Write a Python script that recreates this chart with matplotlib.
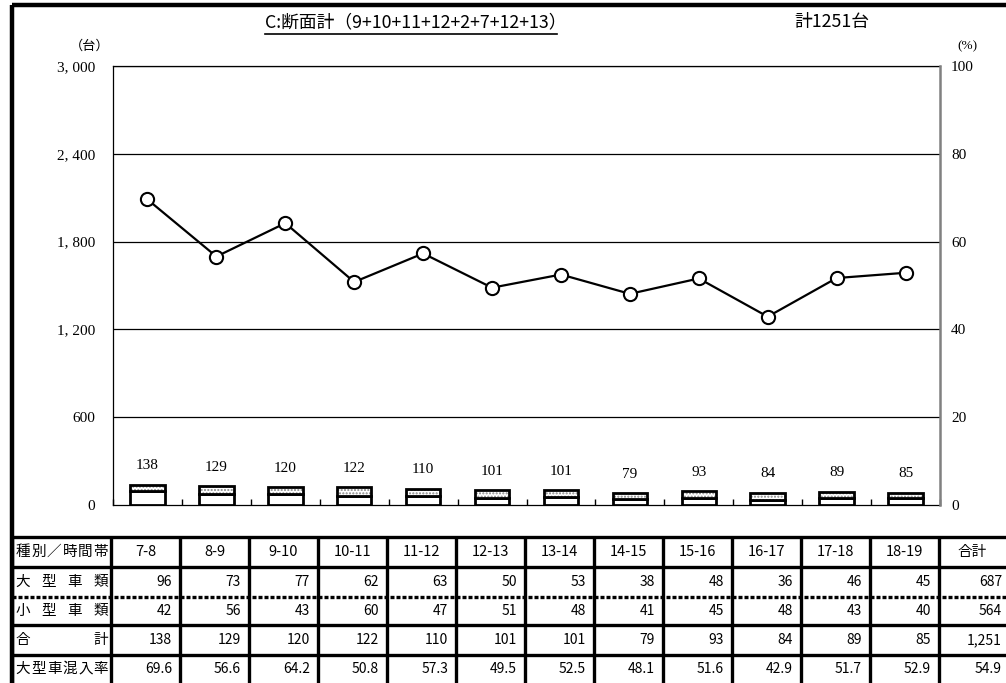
import matplotlib.pyplot as plt
import numpy as np

# data
hours = ['7-8', '8-9', '9-10', '10-11', '11-12', '12-13', '13-14',
         '14-15', '15-16', '16-17', '17-18', '18-19']
large = [96, 73, 77, 62, 63, 50, 53, 38, 48, 36, 46, 45]
small = [42, 56, 43, 60, 47, 51, 48, 41, 45, 48, 43, 40]
total = [138, 129, 120, 122, 110, 101, 101, 79, 93, 84, 89, 85]
rate = [69.6, 56.6, 64.2, 50.8, 57.3, 49.5, 52.5, 48.1, 51.6, 42.9, 51.7, 52.9]
sum_large, sum_small, sum_total, sum_rate = 687, 564, 1251, 54.9
left_ticks = [0, 600, 1200, 1800, 2400, 3000]
right_ticks = [0, 20, 40, 60, 80, 100]

W, H = 1006, 683
CJK = ['Noto Sans CJK JP', 'DejaVu Sans']
SERIF = ['Liberation Serif', 'DejaVu Serif']
plt.rcParams['font.family'] = CJK
plt.rcParams['hatch.linewidth'] = 1.0

fig = plt.figure(figsize=(W / 100, H / 100), dpi=100)

# main chart area in pixel units
ax_l, ax_r, ax_t, ax_b = 113, 940, 66, 505
ax = fig.add_axes([ax_l / W, 1 - ax_b / H, (ax_r - ax_l) / W, (ax_b - ax_t) / H])
x = np.arange(len(hours))

ax.bar(x, large, width=0.5, color='white', edgecolor='black', linewidth=2, zorder=3)
ax.bar(x, small, bottom=large, width=0.5, color='white', edgecolor='#888888',
       hatch='.....', linewidth=0, zorder=3)
ax.bar(x, small, bottom=large, width=0.5, fill=False, edgecolor='black',
       linewidth=2, zorder=4)
for xi, t in zip(x, total):
    ax.annotate(str(t), (xi, t), xytext=(0, 9), textcoords='offset points',
                ha='center', va='bottom', fontsize=11, family=SERIF)

ax.set_xlim(-0.5, len(hours) - 0.5)
ax.set_ylim(0, 3000)
ax.set_yticks(left_ticks)
ax.set_yticklabels([f'{v:,}'.replace(',', ', ') for v in left_ticks], family=SERIF, fontsize=11)
ax.tick_params(axis='y', length=0, pad=13)
ax.set_xticks(np.arange(len(hours) + 1) - 0.5)
ax.set_xticklabels([])
ax.tick_params(axis='x', direction='in', length=4, width=1)
for v in left_ticks[1:]:
    ax.axhline(v, color='black', lw=0.9, zorder=1)
for s in ['left', 'bottom', 'top']:
    ax.spines[s].set_linewidth(0.9)
ax.spines['right'].set_visible(False)

ax2 = ax.twinx()
ax2.plot(x, rate, color='black', lw=1.6, marker='o', markersize=9.5,
         markerfacecolor='white', markeredgecolor='black', markeredgewidth=1.5, zorder=5)
ax2.set_ylim(0, 100)
ax2.set_yticks(right_ticks)
ax2.set_yticklabels([str(v) for v in right_ticks], family=SERIF, fontsize=11)
ax2.tick_params(axis='y', length=0, pad=8)
ax2.spines['right'].set_color('#808080')
ax2.spines['right'].set_linewidth(1.8)
for s in ['left', 'bottom', 'top']:
    ax2.spines[s].set_visible(False)

# overlay in pixel coordinates for frame, titles and table
ov = fig.add_axes([0, 0, 1, 1], zorder=10)
ov.set_xlim(0, W)
ov.set_ylim(H, 0)
ov.axis('off')
ov.patch.set_alpha(0)

ov.plot([12, 12], [5, H], color='black', lw=3.2, solid_capstyle='butt')
ov.plot([12, W], [5, 5], color='black', lw=3.2, solid_capstyle='butt')

ov.text(265, 22, 'C:断面計（9+10+11+12+2+7+12+13）', fontsize=12.8, ha='left', va='center')
ov.plot([265, 557], [34, 34], color='black', lw=1.2)
ov.text(832, 22, '計1251台', fontsize=12.8, ha='center', va='center')
ov.text(90, 46, '（台）', fontsize=9.5, ha='center', va='center')
ov.text(967, 46, '(%)', fontsize=9.5, ha='center', va='center', family=SERIF)

# table
col_x = [12] + [111 + 69 * k for k in range(13)] + [W]
row_y = [537, 567, 597, 625, 655, H]
lw_t = 2.4
for xv in col_x[:-1]:
    ov.plot([xv, xv], [row_y[0], H], color='black', lw=lw_t, solid_capstyle='butt')
for i, yv in enumerate(row_y[:-1]):
    if i == 2:
        ov.plot([12, W], [yv, yv], color='black', lw=lw_t, ls=(0, (1.2, 0.6)))
    else:
        ov.plot([12, W], [yv, yv], color='black', lw=lw_t, solid_capstyle='butt')


def spread(label, x0, x1, yc):
    n = len(label)
    cw = 14
    centers = np.linspace(x0 + cw / 2, x1 - cw / 2, n)
    for ch, cx in zip(label, centers):
        ov.text(cx, yc, ch, fontsize=10.5, ha='center', va='center')


row_labels = ['種別／時間帯', '大型車類', '小型車類', '合計', '大型車混入率']
for i, lab in enumerate(row_labels):
    yc = (row_y[i] + row_y[i + 1]) / 2
    spread(lab, 16, 108, yc)

for k, h in enumerate(hours + ['合計']):
    xc = (col_x[k + 1] + col_x[k + 2]) / 2
    ov.text(xc, (row_y[0] + row_y[1]) / 2, h, fontsize=10.5, ha='center', va='center')

rows = [large + [sum_large], small + [sum_small],
        total + [f'{sum_total:,}'], [f'{r:.1f}' for r in rate] + [f'{sum_rate:.1f}']]
for i, vals in enumerate(rows):
    yc = (row_y[i + 1] + row_y[i + 2]) / 2
    for k, v in enumerate(vals):
        xr = col_x[k + 2] - 8 if k < 12 else W - 4
        ov.text(xr, yc, str(v), fontsize=10, ha='right', va='center')

fig.savefig('out.png', dpi=100)
